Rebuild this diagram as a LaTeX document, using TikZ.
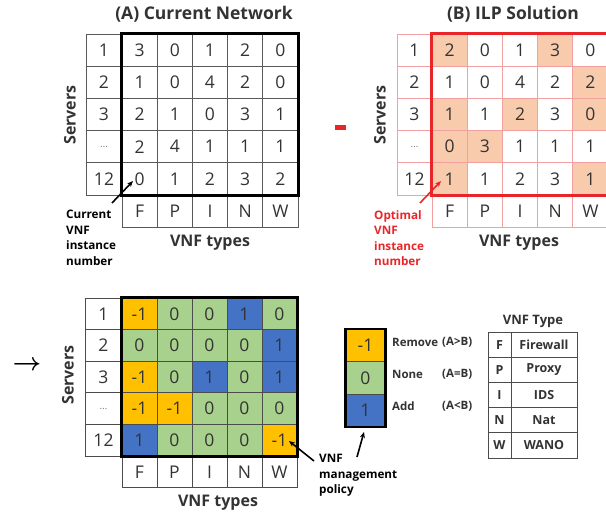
\documentclass[tikz,border=0pt]{standalone}
\usepackage{fontspec}
\setmainfont{Open Sans}
\usetikzlibrary{arrows.meta}
\definecolor{pch}{HTML}{F8CBAD}
\definecolor{org}{HTML}{FFC000}
\definecolor{grn}{HTML}{A9D18E}
\definecolor{blu}{HTML}{4472C4}
\definecolor{pinkline}{HTML}{F2A0A0}
\definecolor{redb}{HTML}{E8262A}
\definecolor{txt}{HTML}{333333}
\begin{document}
\begin{tikzpicture}[x=1pt,y=-1pt,
  cellbase/.style={minimum width=35.2pt, minimum height=32.2pt, inner sep=0pt, font=\fontsize{17.5}{17.5}\selectfont, text=txt},
  cellA/.style={cellbase, draw=black!65, line width=0.7pt},
  cellB/.style={cellbase, draw=pinkline, line width=0.7pt},
  cellC/.style={cellbase, minimum height=31.6pt, minimum width=35pt, draw=black!70, line width=0.7pt},
  srvA/.style={cellA, minimum width=36pt},
  srvB/.style={cellB, minimum width=35pt},
  srvC/.style={cellC, minimum width=37pt},
  title/.style={font=\bfseries\fontsize{17.5}{17.5}\selectfont, text=txt},
  axis/.style={font=\bfseries\fontsize{16}{16}\selectfont, text=txt},
  note/.style={font=\bfseries\fontsize{11.7}{15.5}\selectfont, align=left, anchor=north west, inner sep=0pt},
  ptr/.style={-{Stealth[length=6pt,width=5pt]}, line width=1.6pt},
  tab/.style={draw=black!70, line width=1pt, minimum height=25.2pt, inner sep=0pt, font=\bfseries\fontsize{12.5}{12.5}\selectfont, text=txt},
  leg/.style={font=\bfseries\fontsize{11.5}{11.5}\selectfont, text=txt, anchor=west, inner sep=0pt},
  bigarrow/.style={inner sep=0pt, font={\fontsize{30}{30}\selectfont\boldmath}}
]
\useasboundingbox (0,0) rectangle (606,517);

% ---------------- (A) Current Network ----------------
\node[title] (tA) at (204,14) {(A) Current Network};
\foreach \row [count=\r] in {{3,0,1,2,0},{1,0,4,2,0},{2,1,0,3,1},{2,4,1,1,1},{0,1,2,3,2}}{
  \foreach \v [count=\c] in \row {
    \node[cellA] (a-\r-\c) at ({122+35.2*(\c-0.5)},{34+32.2*(\r-0.5)}) {\v};
  }
}
\foreach \s [count=\r] in {1,2,3,{\textcolor{black!50}{\fontsize{10}{10}\selectfont\ldots}},12}{
  \node[srvA] (sa-\r) at (104,{34+32.2*(\r-0.5)}) {\s};
}
\foreach \t [count=\c] in {F,P,I,N,W}{
  \node[cellA] (ta-\c) at ({122+35.2*(\c-0.5)},211.1) {\t};
}
\draw[line width=2.6pt, line join=miter] (a-1-1.north west) rectangle (a-5-5.south east);
\node[axis] (xA) at (210,243) {VNF types};
\node[axis, rotate=90] (yA) at (70,115) {Servers};
\node[note] (nA) at (66,210) {Current\\VNF\\instance\\number};
\coordinate (pA) at (133,181);
\coordinate (qA) at (112,203);
\draw[ptr] (qA) -- (pA);

% ---------------- minus ----------------
\node[fill=redb, minimum width=11pt, minimum height=5pt, inner sep=0pt] (minus) at (340.5,127.5) {};

% ---------------- (B) ILP Solution ----------------
\node[title] (tB) at (513,14) {(B) ILP Solution};
\foreach \row [count=\r] in {{2/pch,0/white,1/white,3/pch,0/white},{1/white,0/white,4/white,2/white,2/pch},{1/pch,1/white,2/pch,3/white,0/pch},{0/pch,3/pch,1/white,1/white,1/white},{1/pch,1/white,2/white,3/white,1/pch}}{
  \foreach \v/\f [count=\c] in \row {
    \node[cellB, fill=\f] (b-\r-\c) at ({432+35.2*(\c-0.5)},{34+32.2*(\r-0.5)}) {\v};
  }
}
\foreach \s [count=\r] in {1,2,3,{\textcolor{black!50}{\fontsize{10}{10}\selectfont\ldots}},12}{
  \node[srvB] (sb-\r) at (414.5,{34+32.2*(\r-0.5)}) {\s};
}
\foreach \t [count=\c] in {F,P,I,N,W}{
  \node[cellB] (tb-\c) at ({432+35.2*(\c-0.5)},211.1) {\t};
}
\draw[line width=2.6pt, redb, line join=miter] (b-1-1.north west) rectangle (b-5-5.south east);
\node[axis] (xB) at (519,243) {VNF types};
\node[axis, rotate=90] (yB) at (380,115) {Servers};
\node[note, text=redb] (nB) at (374,210) {Optimal\\VNF\\instance\\number};
\coordinate (pB) at (441,181);
\coordinate (qB) at (420,203);
\draw[ptr, redb] (qB) -- (pB);

% ---------------- arrow ----------------
\node[bigarrow] (imp) at (27,366) {$\rightarrow$};

% ---------------- (C) management policy ----------------
\foreach \row [count=\r] in {{-1/org,0/grn,0/grn,1/blu,0/grn},{0/grn,0/grn,0/grn,0/grn,1/blu},{-1/org,0/grn,1/blu,0/grn,1/blu},{-1/org,-1/org,0/grn,0/grn,0/grn},{1/blu,0/grn,0/grn,0/grn,-1/org}}{
  \foreach \v/\f [count=\c] in \row {
    \node[cellC, fill=\f] (c-\r-\c) at ({122+35*(\c-0.5)},{298+31.6*(\r-0.5)}) {\v};
  }
}
\foreach \s [count=\r] in {1,2,3,{\textcolor{black!50}{\fontsize{10}{10}\selectfont\ldots}},12}{
  \node[srvC] (sc-\r) at (103.5,{298+31.6*(\r-0.5)}) {\s};
}
\foreach \t [count=\c] in {F,P,I,N,W}{
  \node[cellC] (tc-\c) at ({122+35*(\c-0.5)},472) {\t};
}
\draw[line width=2.6pt, line join=miter] (c-1-1.north west) rectangle (c-5-5.south east);
\node[axis] (xC) at (218,503) {VNF types};
\node[axis, rotate=90] (yC) at (68,375) {Servers};
\node[note] (nC) at (319,454) {VNF\\management\\policy};
\coordinate (pC) at (289,441);
\coordinate (qC) at (314,461);
\draw[ptr] (qC) -- (pC);

% ---------------- legend ----------------
\node[cellC, minimum width=39pt, minimum height=32.5pt, fill=org] (l1) at (365.5,345.5) {-1};
\node[cellC, minimum width=39pt, minimum height=32.5pt, fill=grn] (l2) at (365.5,378) {0};
\node[cellC, minimum width=39pt, minimum height=32.5pt, fill=blu] (l3) at (365.5,410.5) {1};
\draw[line width=2.6pt, line join=miter] (l1.north west) rectangle (l3.south east);
\node[leg] (r1) at (392,342) {Remove};
\node[leg] (r2) at (392,374) {None};
\node[leg] (r3) at (392,406) {Add};
\node[leg] (e1) at (442,342) {(A>B)};
\node[leg] (e2) at (442,374) {(A=B)};
\node[leg] (e3) at (442,406) {(A<B)};
\coordinate (pL) at (364,432);
\coordinate (qL) at (357,457);
\draw[ptr] (qL) -- (pL);

% ---------------- VNF type table ----------------
\node[font=\bfseries\fontsize{13}{13}\selectfont, text=txt] (vt) at (533,321) {VNF Type};
\foreach \k/\n [count=\r] in {F/Firewall,P/Proxy,I/IDS,N/Nat,W/WANO}{
  \node[tab, minimum width=23pt] (k-\r) at (499.5,{332+25.2*(\r-0.5)}) {\k};
  \node[tab, minimum width=66pt] (n-\r) at (544,{332+25.2*(\r-0.5)}) {\n};
}
\end{tikzpicture}
\end{document}
